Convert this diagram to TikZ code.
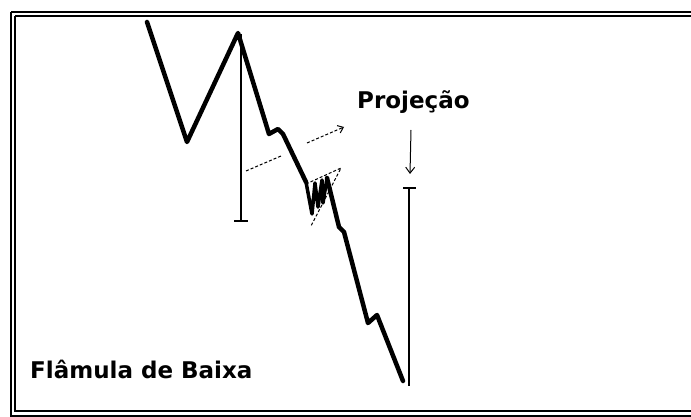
\documentclass[tikz,border=0pt]{standalone}
\usepackage{fontspec}
\newfontfamily\labelfont{DejaVu Sans}[BoldFont={DejaVu Sans Bold}]
\usetikzlibrary{arrows.meta}
\tikzset{
  price/.style={line width=4.5pt, line join=round, line cap=round},
  measure/.style={line width=1.3pt},
  guide/.style={line width=1pt, dash pattern=on 3pt off 2pt},
  lbl/.style={font=\labelfont\bfseries\fontsize{23}{26}\selectfont, inner sep=0pt, anchor=base west},
  frameouter/.style={line width=2.5pt},
  frameinner/.style={line width=1.8pt}
}
\begin{document}
\begin{tikzpicture}[x=1pt,y=-1pt]
\useasboundingbox[fill=white] (0,0) rectangle (691,417);
\clip (0,0) rectangle (691,417);
% frame
\draw[frameouter] (11,12) -- (700,12) (11,12) -- (11,416) -- (700,416);
\draw[frameinner] (15,16) -- (700,16) (15,16) -- (15,411) -- (700,411);

% coordinates of the price line
\coordinate (p1) at (147,22);
\coordinate (p2) at (187,142);
\coordinate (p3) at (238,33);
\coordinate (p4) at (269,134);
\coordinate (p5) at (278,129);
\coordinate (p6) at (283,134);
\coordinate (p7) at (306,182);
\coordinate (w1) at (312,214);
\coordinate (w2) at (315,183);
\coordinate (w3) at (318,207);
\coordinate (w4) at (322,180);
\coordinate (w5) at (323,203);
\coordinate (w6) at (327,178);
\coordinate (p8) at (339,227);
\coordinate (p9) at (344,232);
\coordinate (p10) at (368,323);
\coordinate (p11) at (377,315);
\coordinate (p12) at (403,381);

% pennant triangle (dashed)
\coordinate (t0) at (341,168);
\coordinate (t1) at (306,184);
\coordinate (t2) at (311,226);
\draw[guide] (t1) -- (t0) -- (t2);

% height measure
\coordinate (m1) at (241,34);
\coordinate (m2) at (241,221);
\draw[measure] (m1) -- (m2);
\draw[measure] ([xshift=-7pt]m2) -- ([xshift=7pt]m2);

% dashed projection direction
\coordinate (d1) at (246,171);
\coordinate (d2) at (281,156);
\coordinate (d3) at (307,143);
\coordinate (d4) at (344,127);
\draw[guide] (d1) -- (d2);
\draw[guide, -{Straight Barb[length=5pt,width=8pt]}] (d3) -- (d4);

% projection measure
\coordinate (r1) at (409,188);
\coordinate (r2) at (409,386);
\draw[measure] (r1) -- (r2);
\draw[measure] ([xshift=-6pt]r1) -- ([xshift=7pt]r1);

% small arrow
\coordinate (a1) at (411,130);
\coordinate (a2) at (410,174);
\draw[line width=1pt, -{Straight Barb[length=6pt,width=9pt]}] (a1) -- (a2);

% price line
\draw[price] (p1) -- (p2) -- (p3) -- (p4) -- (p5) -- (p6) -- (p7);
\draw[line width=3.5pt, line join=round] (p7) -- (w1) -- (w2) -- (w3) -- (w4) -- (w5) -- (w6);
\draw[price] (w6) -- (p8) -- (p9) -- (p10) -- (p11) -- (p12);

% labels
\node[lbl] (proj) at (357,109) {Projeção};
\node[lbl] (title) at (30,378) {Flâmula de Baixa};
\end{tikzpicture}
\end{document}
